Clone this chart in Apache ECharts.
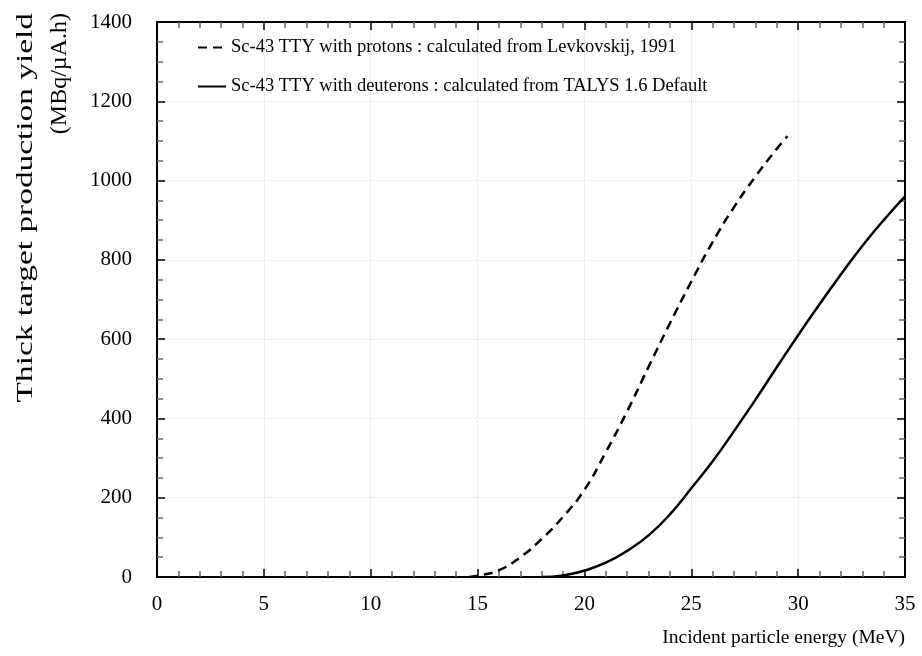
<!DOCTYPE html>
<html>
<head>
<meta charset="utf-8">
<script src="https://cdn.jsdelivr.net/npm/echarts@6/dist/echarts.min.js"></script>
<style>html,body{margin:0;padding:0;background:#fff;}#main{width:922px;height:656px;}</style>
</head>
<body>
<div id="main"></div>
<script>
// Data
const protonEnergy = [14.6, 15, 16, 17, 18, 19, 20, 21, 22, 23, 24, 25, 26, 27, 28, 29, 29.5];
const protonYield  = [0, 3, 17, 50, 96, 152, 220, 315, 418, 530, 640, 745, 845, 933, 1010, 1080, 1112];
const deuteronEnergy = [18, 19, 20, 21, 22, 23, 24, 25, 26, 27, 28, 29, 30, 31, 32, 33, 34, 35];
const deuteronYield  = [0, 4, 16, 36, 66, 105, 158, 224, 292, 368, 447, 529, 610, 688, 763, 835, 900, 960];
const seriesNames = [
  'Sc-43 TTY with protons : calculated from Levkovskij, 1991',
  'Sc-43 TTY with deuterons : calculated from TALYS 1.6 Default'
];
const xAxisTitle = 'Incident particle energy (MeV)';
const yAxisTitle1 = 'Thick target production yield';
const yAxisTitle2 = '(MBq/\u00b5A.h)';

const FONT = '"Liberation Serif", "Times New Roman", serif';
const chart = echarts.init(document.getElementById('main'));

function pairs(xs, ys) { return xs.map((x, i) => [x, ys[i]]); }

const tickCommon = {
  axisLine: { show: true, onZero: false, lineStyle: { color: '#000', width: 2 } },
  axisTick: { show: true, inside: true, length: 8, lineStyle: { color: '#000', width: 1.5 } },
  minorTick: { show: true, length: 6, lineStyle: { color: '#666', width: 1.5 } }
};

chart.setOption({
  animation: false,
  backgroundColor: '#fff',
  grid: { left: 157, right: 17, top: 22, bottom: 79, containLabel: false },
  legend: {
    orient: 'vertical', left: 192, top: 33,
    itemWidth: 28, itemHeight: 14, itemGap: 20,
    itemStyle: { opacity: 0 },
    textStyle: { fontFamily: FONT, fontSize: 18.5, color: '#000' },
    data: seriesNames
  },
  xAxis: [{
    type: 'value', min: 0, max: 35, interval: 5,
    ...tickCommon,
    minorTick: { ...tickCommon.minorTick, splitNumber: 5 },
    axisLabel: { fontFamily: FONT, fontSize: 21, color: '#000', margin: 17 },
    splitLine: { show: true, lineStyle: { color: '#e2e2e2', type: 'dotted', width: 1 } },
    name: xAxisTitle, nameLocation: 'end', nameGap: 0,
    nameTextStyle: { fontFamily: FONT, fontSize: 19.5, color: '#000', align: 'right', verticalAlign: 'top', padding: [51, 0, 0, 0] }
  }, {
    type: 'value', min: 0, max: 35, interval: 5, position: 'top',
    ...tickCommon,
    minorTick: { ...tickCommon.minorTick, splitNumber: 5 },
    axisLabel: { show: false }, splitLine: { show: false }
  }],
  yAxis: [{
    type: 'value', min: 0, max: 1400, interval: 200,
    ...tickCommon,
    minorTick: { ...tickCommon.minorTick, splitNumber: 4 },
    axisLabel: { fontFamily: FONT, fontSize: 21, color: '#000', margin: 25, formatter: v => String(v) },
    splitLine: { show: true, lineStyle: { color: '#e2e2e2', type: 'dotted', width: 1 } }
  }, {
    type: 'value', min: 0, max: 1400, interval: 200, position: 'right',
    ...tickCommon,
    minorTick: { ...tickCommon.minorTick, splitNumber: 4 },
    axisLabel: { show: false }, splitLine: { show: false }
  }],
  graphic: [
    { type: 'text', x: 26, y: 13, rotation: Math.PI / 2, scaleX: 1.39,
      style: { text: yAxisTitle1, font: '24px ' + FONT, fill: '#000', textAlign: 'right', textVerticalAlign: 'middle' } },
    { type: 'text', x: 60, y: 13, rotation: Math.PI / 2,
      style: { text: yAxisTitle2, font: '24px ' + FONT, fill: '#000', textAlign: 'right', textVerticalAlign: 'middle' } }
  ],
  series: [{
    name: seriesNames[0], type: 'line', smooth: 0.5, symbol: 'none',
    data: pairs(protonEnergy, protonYield),
    lineStyle: { color: '#000', width: 2.5, type: [9, 6] },
    itemStyle: { color: '#000' }
  }, {
    name: seriesNames[1], type: 'line', smooth: 0.5, symbol: 'none',
    data: pairs(deuteronEnergy, deuteronYield),
    lineStyle: { color: '#000', width: 2.5, type: 'solid' },
    itemStyle: { color: '#000' }
  }]
});
</script>
</body>
</html>
